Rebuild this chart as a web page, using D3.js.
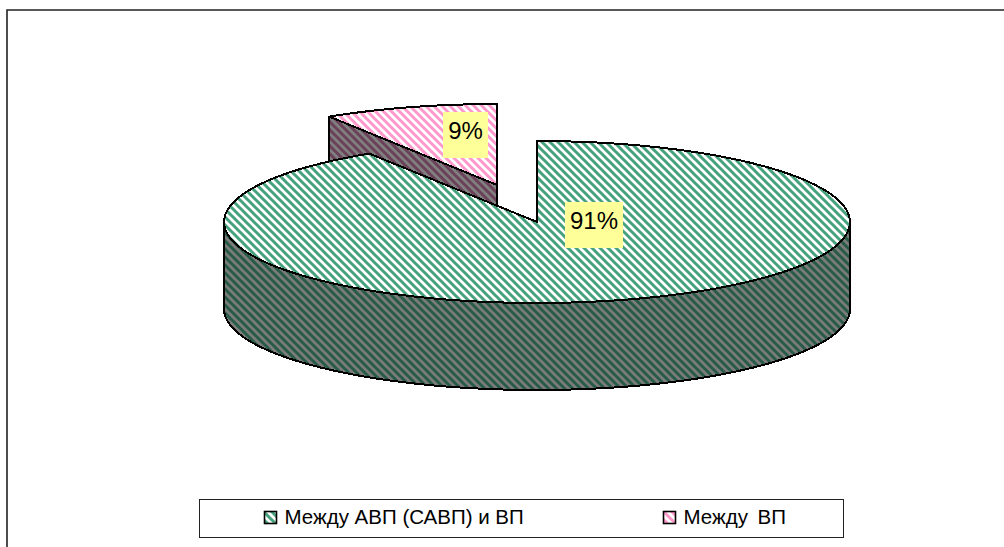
<!DOCTYPE html>
<html lang="en">
<head>
    <meta charset="UTF-8">
    <title>Pie</title>
    <script src="https://d3js.org/d3.v7.min.js"></script>
    <style>
        html, body { margin: 0; padding: 0; background: #fff; overflow: hidden; }
        svg { display: block; }
        text { font-family: "Liberation Sans", Arial, sans-serif; fill: #000; }
    </style>
</head>
<body>
<svg width="1004" height="547"></svg>
<script>
    const categories = ["Между АВП (САВП) и ВП", "Между ВП"];
    const values = [91, 9];
    const valueLabels = ["91%", "9%"];
    const topColors = ["#46a17d", "#ff99cc"];
    const sideColors = ["#275a47", "#6b4059"];

    const svg = d3.select("svg");
    const defs = svg.append("defs");

    function stripes(id, fg, bg) {
        const p = defs.append("pattern")
            .attr("id", id)
            .attr("width", 8).attr("height", 8)
            .attr("patternUnits", "userSpaceOnUse");
        p.append("rect").attr("width", 8).attr("height", 8).attr("fill", bg);
        // diagonal band going down to the right
        p.append("path")
            .attr("d", "M-2,-2L10,10M-2,6L2,10M6,-2L10,2")
            .attr("stroke", fg).attr("stroke-width", 3);
    }
    stripes("top0", topColors[0], "#fff");
    stripes("top1", topColors[1], "#fff");
    stripes("side0", sideColors[0], "#7c7c7c");
    stripes("side1", sideColors[1], "#808080");

    // chart frame, the right and bottom sides are cut off in the picture
    svg.append("path")
        .attr("d", "M7,547V10H1004")
        .attr("fill", "none").attr("stroke", "#222").attr("stroke-width", 1.6);

    // pie angles, clockwise from the top
    const pie = d3.pie().sort(null).startAngle(0).endAngle(2 * Math.PI);
    const slices = pie(values);

    const rx = 313, ry = 81, depth = 87;
    const centers = [[537, 222], [497, 185]];

    // flattened pie projection
    const px = d3.scaleLinear().domain([-1, 1]).range([-rx, rx]);
    const py = d3.scaleLinear().domain([-1, 1]).range([-ry, ry]);
    const pt = (c, a, dy = 0) => [c[0] + px(Math.sin(a)), c[1] + py(-Math.cos(a)) + dy];
    const line = d3.line();

    function rim(c, a0, a1, dy = 0) {
        const n = Math.max(2, Math.ceil((a1 - a0) / 0.05));
        return d3.range(n + 1).map(i => pt(c, a0 + (a1 - a0) * i / n, dy));
    }

    const edge = g => g.attr("stroke", "#000").attr("stroke-width", 2)
        .attr("stroke-linejoin", "round").attr("shape-rendering", "crispEdges");

    // small slice goes behind: its wall first, then its top
    const s1 = slices[1], c1 = centers[1];
    svg.append("path")
        .attr("d", line([pt(c1, s1.startAngle), c1, [c1[0], c1[1] + depth], pt(c1, s1.startAngle, depth)]) + "Z")
        .attr("fill", "url(#side1)").call(edge);
    svg.append("path")
        .attr("d", line([c1, ...rim(c1, s1.startAngle, s1.endAngle)]) + "Z")
        .attr("fill", "url(#top1)").call(edge);

    // big slice: outer wall, then top
    const s0 = slices[0], c0 = centers[0];
    const front = rim(c0, Math.PI / 2, 3 * Math.PI / 2);
    svg.append("path")
        .attr("d", line([...front, ...rim(c0, Math.PI / 2, 3 * Math.PI / 2, depth).reverse()]) + "Z")
        .attr("fill", "url(#side0)").call(edge);
    svg.append("path")
        .attr("d", line([c0, ...rim(c0, s0.startAngle, s0.endAngle)]) + "Z")
        .attr("fill", "url(#top0)").call(edge);

    // value labels
    const labelPos = [[594, 225], [465.5, 135]];
    const labelW = [58, 45];
    valueLabels.forEach((t, i) => {
        const g = svg.append("g").attr("transform", `translate(${labelPos[i]})`);
        g.append("rect").attr("x", -labelW[i] / 2).attr("y", -23)
            .attr("width", labelW[i]).attr("height", 46).attr("fill", "#ffff99");
        g.append("text").attr("text-anchor", "middle").attr("y", 4).attr("font-size", 24).text(t);
    });

    // legend
    svg.append("rect")
        .attr("x", 199.5).attr("y", 499.5).attr("width", 644).attr("height", 38)
        .attr("fill", "#fff").attr("stroke", "#222");
    const legendX = [264.5, 663.5];
    const wordGap = [0, 4];
    categories.forEach((c, i) => {
        svg.append("rect")
            .attr("x", legendX[i]).attr("y", 511.5).attr("width", 12).attr("height", 12)
            .attr("fill", `url(#top${i})`).attr("stroke", "#000").attr("stroke-width", 1.6);
        svg.append("text")
            .attr("x", legendX[i] + 20).attr("y", 524)
            .attr("word-spacing", wordGap[i])
            .attr("font-size", 20.5).text(c);
    });
</script>
</body>
</html>
